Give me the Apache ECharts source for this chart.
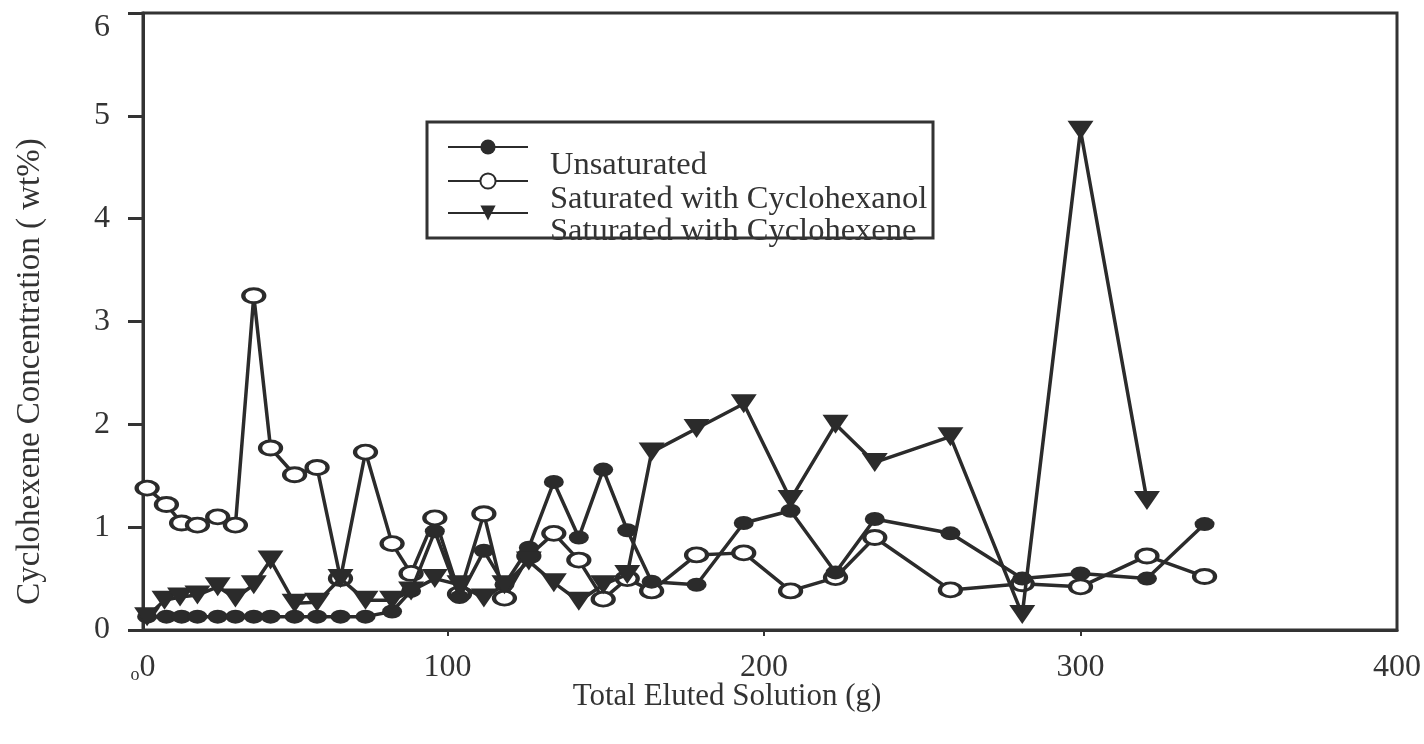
<!DOCTYPE html>
<html>
<head>
<meta charset="utf-8">
<script src="https://cdn.jsdelivr.net/npm/echarts@6/dist/echarts.min.js"></script>
<style>
html,body{margin:0;padding:0;background:#fff;}
#chart{width:1424px;height:744px;}
</style>
</head>
<body>
<div id="chart"></div>
<script>
// ---- data ----
const xAxisMin = 3.8;           // value where the y axis crosses the x axis
const xAxisMax = 400;
const xTickValues = [3.8, 100, 200, 300, 400];
const xTickLabels = ['o0', '100', '200', '300', '400'];
const yTickLabels = ['0', '1', '2', '3', '4', '5', '6'];

const seriesNames = ['Unsaturated', 'Saturated with Cyclohexanol', 'Saturated with Cyclohexene'];

const sampleX = [5.1, 11.2, 16, 21, 27.4, 33, 38.8, 44.1, 51.7, 58.8, 66.2, 74.1, 82.5, 88.5, 96,
  103.8, 111.5, 118, 125.7, 133.6, 141.5, 149.2, 156.8, 164.5, 178.7, 193.6, 208.4, 222.6, 235,
  258.9, 281.6, 300, 321, 339.2];

const unsaturated = [0.13, 0.13, 0.13, 0.13, 0.13, 0.13, 0.13, 0.13, 0.13, 0.13, 0.13, 0.13, 0.18, 0.38, 0.96,
  0.32, 0.77, 0.44, 0.8, 1.44, 0.9, 1.56, 0.97, 0.47, 0.44, 1.04, 1.16, 0.56, 1.08,
  0.94, 0.5, 0.55, 0.5, 1.03];

const cyclohexanol = [1.38, 1.22, 1.04, 1.02, 1.1, 1.02, 3.25, 1.77, 1.51, 1.58, 0.5, 1.73, 0.84, 0.55, 1.09,
  0.35, 1.13, 0.31, 0.72, 0.94, 0.68, 0.3, 0.5, 0.38, 0.73, 0.75, 0.38, 0.51, 0.9,
  0.39, 0.45, 0.42, 0.72, 0.52];

const cyclohexeneX = [5.1, 10.6, 15.5, 21, 27.4, 33, 38.8, 44.1, 51.7, 58.8, 66.2, 74.1, 82.5, 88.5, 96,
  103.8, 111.5, 118, 125.7, 133.6, 141.5, 149.2, 156.8, 164.5, 178.7, 193.6, 208.4, 222.6, 235,
  258.9, 281.6, 300, 321];
const cyclohexene = [0.13, 0.29, 0.32, 0.34, 0.42, 0.31, 0.44, 0.68, 0.26, 0.27, 0.5, 0.29, 0.29, 0.38, 0.5,
  0.44, 0.31, 0.44, 0.67, 0.46, 0.28, 0.44, 0.54, 1.73, 1.96, 2.2, 1.27, 2.0, 1.63,
  1.88, 0.15, 4.86, 1.26];

// ---- chart ----
const ink = '#2b2b2b';
const serif = '"Liberation Serif", "Times New Roman", serif';
const pairs = (xs, ys) => xs.map((x, i) => [x, ys[i]]);

const chart = echarts.init(document.getElementById('chart'), null, {renderer: 'canvas'});

function legendFor(name, top) {
  return {
    data: [name],
    left: 447,
    top: top,
    padding: 0,
    itemWidth: 80,
    itemHeight: 19,
    formatter: n => '\n' + n,
    textStyle: {
      fontFamily: serif, fontSize: 32.5, color: '#333', lineHeight: 36,
      padding: [0, 0, 0, 17]
    }
  };
}

const option = {
  animation: false,
  backgroundColor: '#fff',
  grid: {
    left: 143, right: 27, top: 13, bottom: 114,
    show: true, borderColor: '#333', borderWidth: 3, backgroundColor: 'transparent'
  },
  legend: [
    legendFor(seriesNames[0], 111),
    legendFor(seriesNames[1], 145),
    legendFor(seriesNames[2], 177)
  ],
  xAxis: {
    type: 'value',
    min: xAxisMin,
    max: xAxisMax,
    axisLine: {show: true, lineStyle: {color: '#333', width: 3}},
    axisTick: {show: true, customValues: [100, 200, 300], length: 6, lineStyle: {color: '#333', width: 2}},
    splitLine: {show: false},
    axisLabel: {
      customValues: xTickValues,
      margin: 22,
      fontFamily: serif, fontSize: 32, color: '#333',
      formatter: function (v) {
        const i = xTickValues.indexOf(v);
        const t = i >= 0 ? xTickLabels[i] : '';
        return t === 'o0' ? '{s|o}0' : t;
      },
      rich: {s: {fontFamily: serif, fontSize: 18, color: '#333', verticalAlign: 'bottom'}}
    },
    name: 'Total Eluted Solution (g)',
    nameLocation: 'middle',
    nameGap: 51,
    nameMoveOverlap: false,
    nameTextStyle: {fontFamily: serif, fontSize: 31, color: '#333', padding: [0, 86, 0, 0]}
  },
  yAxis: {
    type: 'value',
    min: 0, max: 6, interval: 1,
    axisLine: {show: true, lineStyle: {color: '#333', width: 3}},
    axisTick: {show: true, length: 15, inside: false, lineStyle: {color: '#333', width: 3}},
    splitLine: {show: false},
    axisLabel: {
      margin: 33, fontFamily: serif, fontSize: 32, color: '#333',
      formatter: function (v) {
        const t = yTickLabels[Math.round(v)];
        return Math.round(v) === 6 ? '{low|' + t + '}' : t;
      },
      rich: {low: {fontFamily: serif, fontSize: 32, color: '#333', padding: [30, 0, 0, 0]}}
    },
    name: 'Cyclohexene Concentration ( wt%)',
    nameLocation: 'middle',
    nameGap: 96,
    nameMoveOverlap: false,
    nameTextStyle: {fontFamily: serif, fontSize: 33, color: '#333', padding: [0, 100, 0, 0]}
  },
  series: [
    {
      name: seriesNames[0],
      type: 'line',
      data: pairs(sampleX, unsaturated),
      symbol: 'circle',
      symbolSize: [20, 14],
      lineStyle: {color: ink, width: 3.5},
      itemStyle: {color: ink, borderWidth: 0},
      z: 3
    },
    {
      name: seriesNames[1],
      type: 'line',
      data: pairs(sampleX, cyclohexanol),
      symbol: 'circle',
      symbolSize: [21, 14],
      lineStyle: {color: ink, width: 3.5},
      itemStyle: {color: '#fff', borderColor: ink, borderWidth: 3.5},
      z: 2
    },
    {
      name: seriesNames[2],
      type: 'line',
      data: pairs(cyclohexeneX, cyclohexene),
      symbol: 'path://M0,0L20,0L10,15Z',
      symbolKeepAspect: false,
      symbolSize: [26, 19],
      lineStyle: {color: ink, width: 3.5},
      itemStyle: {color: ink, borderWidth: 0},
      z: 4
    }
  ],
  graphic: [
    {
      type: 'rect',
      z: 100,
      shape: {x: 427, y: 122, width: 506, height: 116},
      style: {fill: 'transparent', stroke: '#333', lineWidth: 3}
    }
  ]
};

chart.setOption(option);
</script>
</body>
</html>
